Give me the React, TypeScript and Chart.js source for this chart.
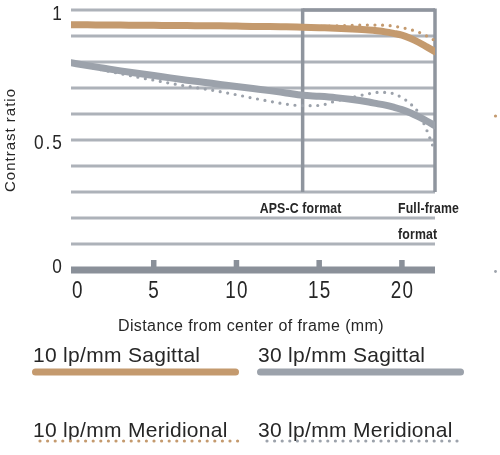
import React, { useEffect, useRef } from "react";
import { Chart, registerables } from "chart.js";

Chart.register(...registerables);

// ---- data ----
const distanceMm = [0, 1, 2, 3, 4, 5, 6, 7, 8, 9, 10, 11, 12, 13, 14, 15, 16, 17, 18, 18.5, 19, 19.5, 20, 20.5, 21, 21.5, 22];
const sagittal10 = [0.943, 0.943, 0.942, 0.942, 0.941, 0.941, 0.94, 0.94, 0.939, 0.939, 0.938, 0.937, 0.937, 0.936, 0.934, 0.932, 0.93, 0.927, 0.923, 0.92, 0.916, 0.91, 0.903, 0.891, 0.876, 0.858, 0.84];
const meridional10 = [0.943, 0.943, 0.942, 0.942, 0.941, 0.941, 0.94, 0.94, 0.939, 0.939, 0.938, 0.938, 0.937, 0.937, 0.936, 0.937, 0.939, 0.941, 0.942, 0.942, 0.941, 0.938, 0.932, 0.925, 0.915, 0.9, 0.882];
const sagittal30 = [0.797, 0.786, 0.776, 0.766, 0.757, 0.748, 0.739, 0.73, 0.722, 0.714, 0.706, 0.698, 0.69, 0.681, 0.672, 0.668, 0.663, 0.656, 0.646, 0.64, 0.634, 0.626, 0.617, 0.605, 0.59, 0.573, 0.555];
const meridional30 = [0.797, 0.782, 0.768, 0.755, 0.742, 0.73, 0.718, 0.707, 0.697, 0.686, 0.674, 0.661, 0.649, 0.638, 0.632, 0.633, 0.65, 0.664, 0.678, 0.683, 0.683, 0.678, 0.663, 0.64, 0.605, 0.538, 0.455];

const seriesLabels = ["10 lp/mm Sagittal", "30 lp/mm Sagittal", "10 lp/mm Meridional", "30 lp/mm Meridional"];
const xTickValues = [0, 5, 10, 15, 20];
const xTickLabels = ["0", "5", "10", "15", "20"];
const yLabelValues = [1, 0.5, 0];
const yLabelTexts = ["1", "0.5", "0"];
const gridValues = [0.1, 0.2, 0.3, 0.4, 0.5, 0.6, 0.7, 0.8, 0.9, 1.0];
const formatBoundaries = [14, 22];
const formatLabels = [["APS-C format"], ["Full-frame", "format"]];
const xTitle = "Distance from center of frame (mm)";
const yTitle = "Contrast ratio";

// ---- styles ----
const ORANGE = "#c49a6e";
const GRAY = "#9ca2ab";
const GRID = "#adb2b9";
const AXIS = "#8a9099";
const BOX = "#8f959e";
const TEXT = "#262626";
const SANS = "'Liberation Sans', Arial, sans-serif";

// Arial-Narrow look: Liberation Sans compressed horizontally
function narrowText(ctx: any, text: string, px: number, py: number, align: string, font: string, spacing: number, sx = 0.82) {
  ctx.save();
  ctx.translate(px, py);
  ctx.scale(sx, 1);
  ctx.font = font;
  ctx.letterSpacing = `${spacing}px`;
  ctx.textAlign = align;
  ctx.textBaseline = "alphabetic";
  ctx.fillText(text, 0, 0);
  ctx.restore();
}

const decor = {
  id: "decor",
  beforeDatasetsDraw(chart: any) {
    const { ctx } = chart;
    const x = chart.scales.x;
    const y = chart.scales.y;
    const L = x.getPixelForValue(0);
    const R = x.getPixelForValue(22);
    ctx.save();
    ctx.lineCap = "butt";
    ctx.strokeStyle = GRID;
    ctx.lineWidth = 3;
    gridValues.forEach((v) => {
      const py = y.getPixelForValue(v);
      ctx.beginPath();
      ctx.moveTo(L, py);
      ctx.lineTo(R, py);
      ctx.stroke();
    });
    // format box
    const top = y.getPixelForValue(1);
    const bottom = y.getPixelForValue(0.3);
    const bx0 = x.getPixelForValue(formatBoundaries[0]);
    const bx1 = x.getPixelForValue(formatBoundaries[1]);
    ctx.strokeStyle = BOX;
    ctx.lineWidth = 3.5;
    ctx.beginPath();
    ctx.moveTo(bx0, top);
    ctx.lineTo(bx1, top);
    ctx.stroke();
    formatBoundaries.forEach((b) => {
      const px = x.getPixelForValue(b);
      ctx.beginPath();
      ctx.moveTo(px, top - 1.5);
      ctx.lineTo(px, bottom);
      ctx.stroke();
    });
    // x axis bar with ticks
    const y0 = y.getPixelForValue(0);
    ctx.fillStyle = AXIS;
    ctx.fillRect(L, y0 - 3.5, R - L, 7);
    xTickValues.forEach((v) => {
      if (v === 0) return;
      const px = x.getPixelForValue(v);
      ctx.fillRect(px - 2.75, y0 - 10, 5.5, 7);
    });
    ctx.restore();
  },
  afterDraw(chart: any) {
    const { ctx } = chart;
    const x = chart.scales.x;
    const y = chart.scales.y;
    ctx.save();
    ctx.fillStyle = TEXT;
    ctx.textBaseline = "alphabetic";

    // x tick labels
    xTickValues.forEach((v, i) => {
      const px = x.getPixelForValue(v);
      if (v === 0) {
        narrowText(ctx, xTickLabels[i], px + 1, 298, "left", `23px ${SANS}`, 0);
      } else {
        narrowText(ctx, xTickLabels[i], px + 0.5, 298, "center", `23px ${SANS}`, 1.5);
      }
    });

    // y labels
    const yOffsets = [10, 9, 3];
    yLabelValues.forEach((v, i) => {
      const py = y.getPixelForValue(v);
      narrowText(ctx, yLabelTexts[i], 64, py + yOffsets[i], "right", `21px ${SANS}`, 2.5);
    });

    // format labels
    const fx0 = x.getPixelForValue(formatBoundaries[0]);
    narrowText(ctx, formatLabels[0][0], fx0 - 2, 213, "center", `bold 15px ${SANS}`, 0.2);
    const fx1 = x.getPixelForValue(formatBoundaries[1]);
    narrowText(ctx, formatLabels[1][0], fx1 - 37, 213, "left", `bold 15px ${SANS}`, 0.2);
    narrowText(ctx, formatLabels[1][1], fx1 - 37, 239, "left", `bold 15px ${SANS}`, 0.2);

    // axis titles
    ctx.font = `16px ${SANS}`;
    (ctx as any).letterSpacing = "0.4px";
    ctx.textAlign = "center";
    ctx.fillText(xTitle, 251, 331);

    ctx.save();
    ctx.font = `15px ${SANS}`;
    (ctx as any).letterSpacing = "1px";
    ctx.translate(15, 140);
    ctx.rotate(-Math.PI / 2);
    ctx.textAlign = "center";
    ctx.fillText(yTitle, 0, 0);
    ctx.restore();

    // legend
    const colX = [32, 257];
    const textBase = [362, 437];
    const lineY = [372, 441];
    chart.data.datasets.forEach((ds: any, i: number) => {
      const col = i % 2;
      const row = Math.floor(i / 2);
      ctx.font = `21px ${SANS}`;
      (ctx as any).letterSpacing = "0.3px";
      ctx.textAlign = "left";
      ctx.fillStyle = TEXT;
      ctx.fillText(ds.label, colX[col] + 1, textBase[row]);
      ctx.save();
      ctx.strokeStyle = ds.borderColor;
      ctx.lineWidth = ds.borderWidth;
      ctx.lineCap = "round";
      ctx.setLineDash(ds.borderDash || []);
      ctx.beginPath();
      if (ds.borderDash) {
        ctx.moveTo(colX[col] + 8 + col * 2, lineY[row]);
        ctx.lineTo(colX[col] + 206, lineY[row]);
      } else {
        ctx.moveTo(colX[col] + 3.5, lineY[row]);
        ctx.lineTo(colX[col] + 203.5, lineY[row]);
      }
      ctx.stroke();
      ctx.restore();
    });

    // clipped markers at right edge
    ctx.fillStyle = ORANGE;
    ctx.beginPath();
    ctx.arc(495.5, 116, 1.6, 0, Math.PI * 2);
    ctx.fill();
    ctx.fillStyle = GRAY;
    ctx.beginPath();
    ctx.arc(495.5, 271.5, 1.4, 0, Math.PI * 2);
    ctx.fill();

    ctx.restore();
  },
};

export default function App() {
  const canvasRef = useRef<HTMLCanvasElement | null>(null);

  useEffect(() => {
    const canvas = canvasRef.current;
    if (!canvas) return;
    const mk = (vals: number[]) => distanceMm.map((d, i) => ({ x: d, y: vals[i] }));
    const common = { cubicInterpolationMode: "monotone", pointRadius: 0, fill: false, borderCapStyle: "round" };
    const chart = new Chart(canvas, {
      type: "line",
      data: {
        datasets: [
          { ...common, label: seriesLabels[0], data: mk(sagittal10), borderColor: ORANGE, borderWidth: 7 },
          { ...common, label: seriesLabels[1], data: mk(sagittal30), borderColor: GRAY, borderWidth: 7 },
          { ...common, label: seriesLabels[2], data: mk(meridional10), borderColor: ORANGE, borderWidth: 3.2, borderDash: [0, 7.6] },
          { ...common, label: seriesLabels[3], data: mk(meridional30), borderColor: GRAY, borderWidth: 3.2, borderDash: [0, 7.6] },
        ] as any,
      },
      options: {
        animation: false,
        responsive: false,
        devicePixelRatio: 1,
        layout: { padding: { left: 71, right: 65, top: 10, bottom: 185 } },
        scales: {
          x: { type: "linear", min: 0, max: 22, display: false },
          y: { type: "linear", min: 0, max: 1, display: false },
        },
        plugins: { legend: { display: false }, tooltip: { enabled: false } },
        events: [],
      } as any,
      plugins: [decor],
    });
    return () => chart.destroy();
  }, []);

  return (
    <div style={{ position: "absolute", left: 0, top: 0, width: 500, height: 455, background: "#fff" }}>
      <canvas ref={canvasRef} width={500} height={455} style={{ display: "block", width: 500, height: 455 }} />
    </div>
  );
}
